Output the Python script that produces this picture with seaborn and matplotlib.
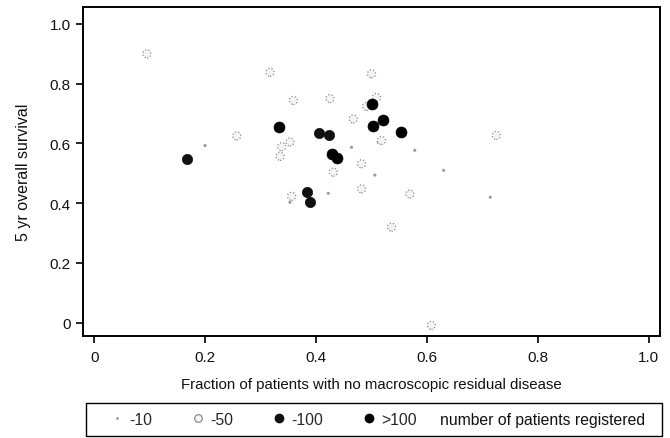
import matplotlib
matplotlib.use("Agg")
import matplotlib.pyplot as plt
from matplotlib.lines import Line2D
from matplotlib.patches import Rectangle
import seaborn as sns
import pandas as pd

sns.set_style("white")
plt.rcParams['font.family'] = ['Liberation Sans', 'DejaVu Sans']

# category labels
categories = ["-10", "-50", "-100", ">100"]
legend_title = "number of patients registered"

# -10 patients registered
x_10 = [0.200, 0.464, 0.422, 0.506, 0.512, 0.578, 0.630, 0.714, 0.353]
y_10 = [0.593, 0.587, 0.433, 0.494, 0.604, 0.577, 0.510, 0.420, 0.403]

# -50 patients registered
x_50 = [0.095, 0.317, 0.359, 0.425, 0.500, 0.509, 0.491, 0.467, 0.257, 0.338,
        0.353, 0.335, 0.482, 0.431, 0.482, 0.356, 0.725, 0.608, 0.536, 0.518, 0.569]
y_50 = [0.900, 0.838, 0.744, 0.750, 0.833, 0.754, 0.724, 0.682, 0.625, 0.589,
        0.605, 0.557, 0.532, 0.504, 0.448, 0.423, 0.627, -0.009, 0.320, 0.610, 0.431]

# -100 patients registered
x_100 = [0.167, 0.406, 0.424, 0.384, 0.389]
y_100 = [0.548, 0.635, 0.629, 0.437, 0.403]

# >100 patients registered
x_g100 = [0.334, 0.500, 0.503, 0.521, 0.553, 0.428, 0.438]
y_g100 = [0.654, 0.732, 0.660, 0.679, 0.638, 0.565, 0.551]

x_ticks = [0, 0.2, 0.4, 0.6, 0.8, 1.0]
x_ticklabels = ["0", "0.2", "0.4", "0.6", "0.8", "1.0"]
y_ticks = [0, 0.2, 0.4, 0.6, 0.8, 1.0]
y_ticklabels = ["0", "0.2", "0.4", "0.6", "0.8", "1.0"]

df = pd.concat([
    pd.DataFrame({"x": x_10, "y": y_10, "cat": categories[0]}),
    pd.DataFrame({"x": x_50, "y": y_50, "cat": categories[1]}),
    pd.DataFrame({"x": x_100, "y": y_100, "cat": categories[2]}),
    pd.DataFrame({"x": x_g100, "y": y_g100, "cat": categories[3]}),
], ignore_index=True)

styles = {
    "-10": dict(s=5, color="#9a9a9a", edgecolor="none", linewidth=0),
    "-50": dict(s=34, facecolor="#f4f4f4", edgecolor="#8a8a8a", linewidth=0.9, linestyle=":"),
    "-100": dict(s=55, color="#111111", edgecolor="#111111", linewidth=0.5),
    ">100": dict(s=62, color="#000000", edgecolor="#000000", linewidth=0.5),
}

fig = plt.figure(figsize=(6.7, 4.39), dpi=100)
ax = fig.add_axes([0.124, 0.232, 0.861, 0.750])

for c in categories:
    sub = df[df["cat"] == c]
    sns.scatterplot(data=sub, x="x", y="y", ax=ax, legend=False, **styles[c])

ax.set_xlim(-0.02, 1.02)
ax.set_ylim(-0.045, 1.057)
ax.set_xticks(x_ticks)
ax.set_xticklabels(x_ticklabels)
ax.set_yticks(y_ticks)
ax.set_yticklabels(y_ticklabels)
ax.tick_params(axis="both", direction="out", length=5, width=1.2, color="black",
               labelsize=11, labelcolor="#111111", bottom=True, left=True, pad=4)
ax.tick_params(axis="x", pad=5)
for sp in ax.spines.values():
    sp.set_visible(True)
    sp.set_color("black")
    sp.set_linewidth(1.4)

ax.set_xlabel("Fraction of patients with no macroscopic residual disease", fontsize=10.8,
              labelpad=9, color="#111111")
ax.set_ylabel("5 yr overall survival", fontsize=11.5, labelpad=13, color="#111111")

handles = [
    Line2D([], [], marker="o", linestyle="none", markersize=2, markerfacecolor="#9a9a9a",
           markeredgecolor="none"),
    Line2D([], [], marker="o", linestyle="none", markersize=5.5, markerfacecolor="#f4f4f4",
           markeredgecolor="#8a8a8a", markeredgewidth=0.9),
    Line2D([], [], marker="o", linestyle="none", markersize=6, markerfacecolor="#111111",
           markeredgecolor="#111111"),
    Line2D([], [], marker="o", linestyle="none", markersize=6, markerfacecolor="black",
           markeredgecolor="black"),
]
leg = fig.legend(handles, categories, loc="center left", bbox_to_anchor=(111 / 670, 0.043),
                 ncol=4, frameon=False, fontsize=11.3,
                 handlelength=0.8, handletextpad=0.35, columnspacing=2.55, borderpad=0,
                 borderaxespad=0)
fig.text(440 / 670, 0.043, legend_title, fontsize=11.3, ha="left", va="center", color="#111111")
fig.patches.append(Rectangle((86 / 670, 1 - 437 / 439), (662 - 86) / 670, 33 / 439,
                             transform=fig.transFigure, fill=False, edgecolor="black",
                             linewidth=1.0))

fig.savefig("out.png", dpi=100, facecolor="white")
